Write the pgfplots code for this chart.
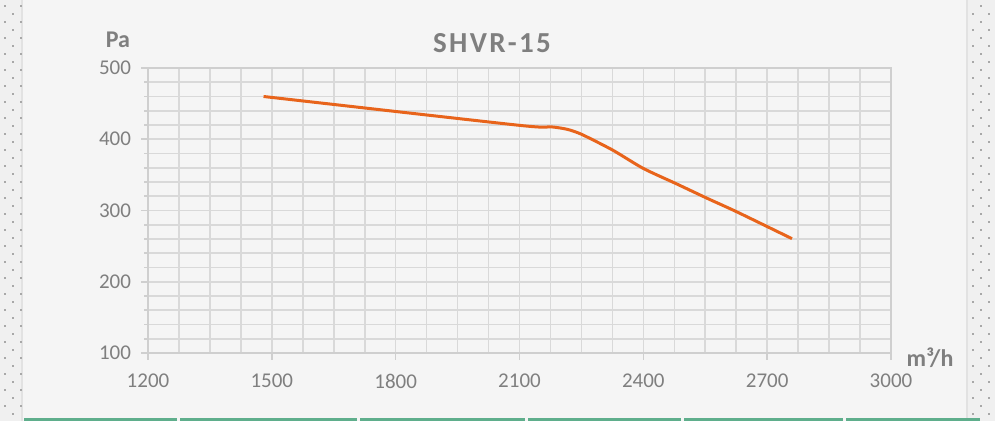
\documentclass[border=0pt]{standalone}
\usepackage{pgfplots}
\pgfplotsset{compat=1.18}
\usepackage{fontspec}
\setmainfont{Carlito}
\definecolor{tickgray}{HTML}{7F7F7F}
\definecolor{gridgray}{HTML}{D9D9D9}
\definecolor{axgray}{HTML}{CFCFCF}
\definecolor{curve}{HTML}{E8641B}
\definecolor{tealc}{HTML}{5FAE8C}
\definecolor{bgc}{HTML}{F5F5F5}
\definecolor{sidec}{HTML}{F0F0F0}
\definecolor{borderc}{HTML}{E2E2E2}
\definecolor{dotc}{HTML}{A8A8A8}
\begin{document}
\begin{tikzpicture}
\begin{scope}[x=0.5pt,y=-0.5pt,shift={(0,210.5pt)}]
\path[use as bounding box] (0,0) rectangle (995,421);
\begin{scope}
\clip (0,0) rectangle (995,421);
\fill[bgc] (0,0) rectangle (995,421);
\fill[sidec] (0,0) rectangle (22,421);
\fill[sidec] (968,0) rectangle (995,421);
\draw[borderc,line width=1pt] (22,0)--(22,421);
\draw[borderc,line width=1pt] (967,0)--(967,421);
\foreach \i in {0,...,25}{
  \fill[dotc] (4,4.7+16*\i) rectangle +(2,2);
  \fill[dotc] (20,4.7+16*\i) rectangle +(2,2);
  \fill[dotc] (11.7,12.7+16*\i) rectangle +(2,2);
  \fill[dotc] (972,13+16*\i) rectangle +(2,2);
  \fill[dotc] (988,13+16*\i) rectangle +(2,2);
  \fill[dotc] (980,5+16*\i) rectangle +(2,2);
}
\foreach \a/\b in {24/177,180/357,360/525,528/681,684/843,846/980}{
  \fill[tealc] (\a,418.5) rectangle (\b,421);
}
\end{scope}
\node[text=tickgray,font=\fontsize{14.5}{16}\selectfont\bfseries\addfontfeatures{LetterSpace=8}] at (492,43) {SHVR-15};
\node[text=tickgray,font=\fontsize{12}{14}\selectfont\bfseries] at (118,40) {Pa};
\node[text=tickgray,font=\fontsize{12}{14}\selectfont\bfseries] at (930,358) {m³/h};
\end{scope}
\begin{axis}[
  at={(74pt,34pt)}, anchor=south west,
  scale only axis, width=371.5pt, height=142.5pt,
  xmin=1200, xmax=3000, ymin=100, ymax=500,
  xtick={1200,1500,...,3000}, minor x tick num=3,
  ytick={100,200,...,500}, minor y tick num=4,
  grid=both,
  major grid style={gridgray,line width=0.8pt},
  minor grid style={gridgray,line width=0.8pt},
  axis line style={axgray,line width=0.8pt},
  tick style={axgray,line width=0.8pt},
  tick align=outside, tick pos=left,
  major tick length=3.5pt, minor tick length=2pt,
  minor x tick style={draw=none},
  ticklabel style={font=\fontsize{10.5}{12}\selectfont, text=tickgray},
  /pgf/number format/assume math mode=true,
  /pgf/number format/1000 sep={},
  xticklabel style={yshift=-3.5pt},
  yticklabel style={xshift=-1.5pt},
  clip=false,
]
\addplot[curve, line width=1.5pt, smooth, tension=0.4] coordinates {
(1480,460) (2100,419.5) (2175,417.5) (2215,414) (2250,407) (2325,385)
(2400,359) (2480,337.5) (2555,317) (2625,298.5) (2760,260.5)
};
\end{axis}
\end{tikzpicture}
\end{document}
